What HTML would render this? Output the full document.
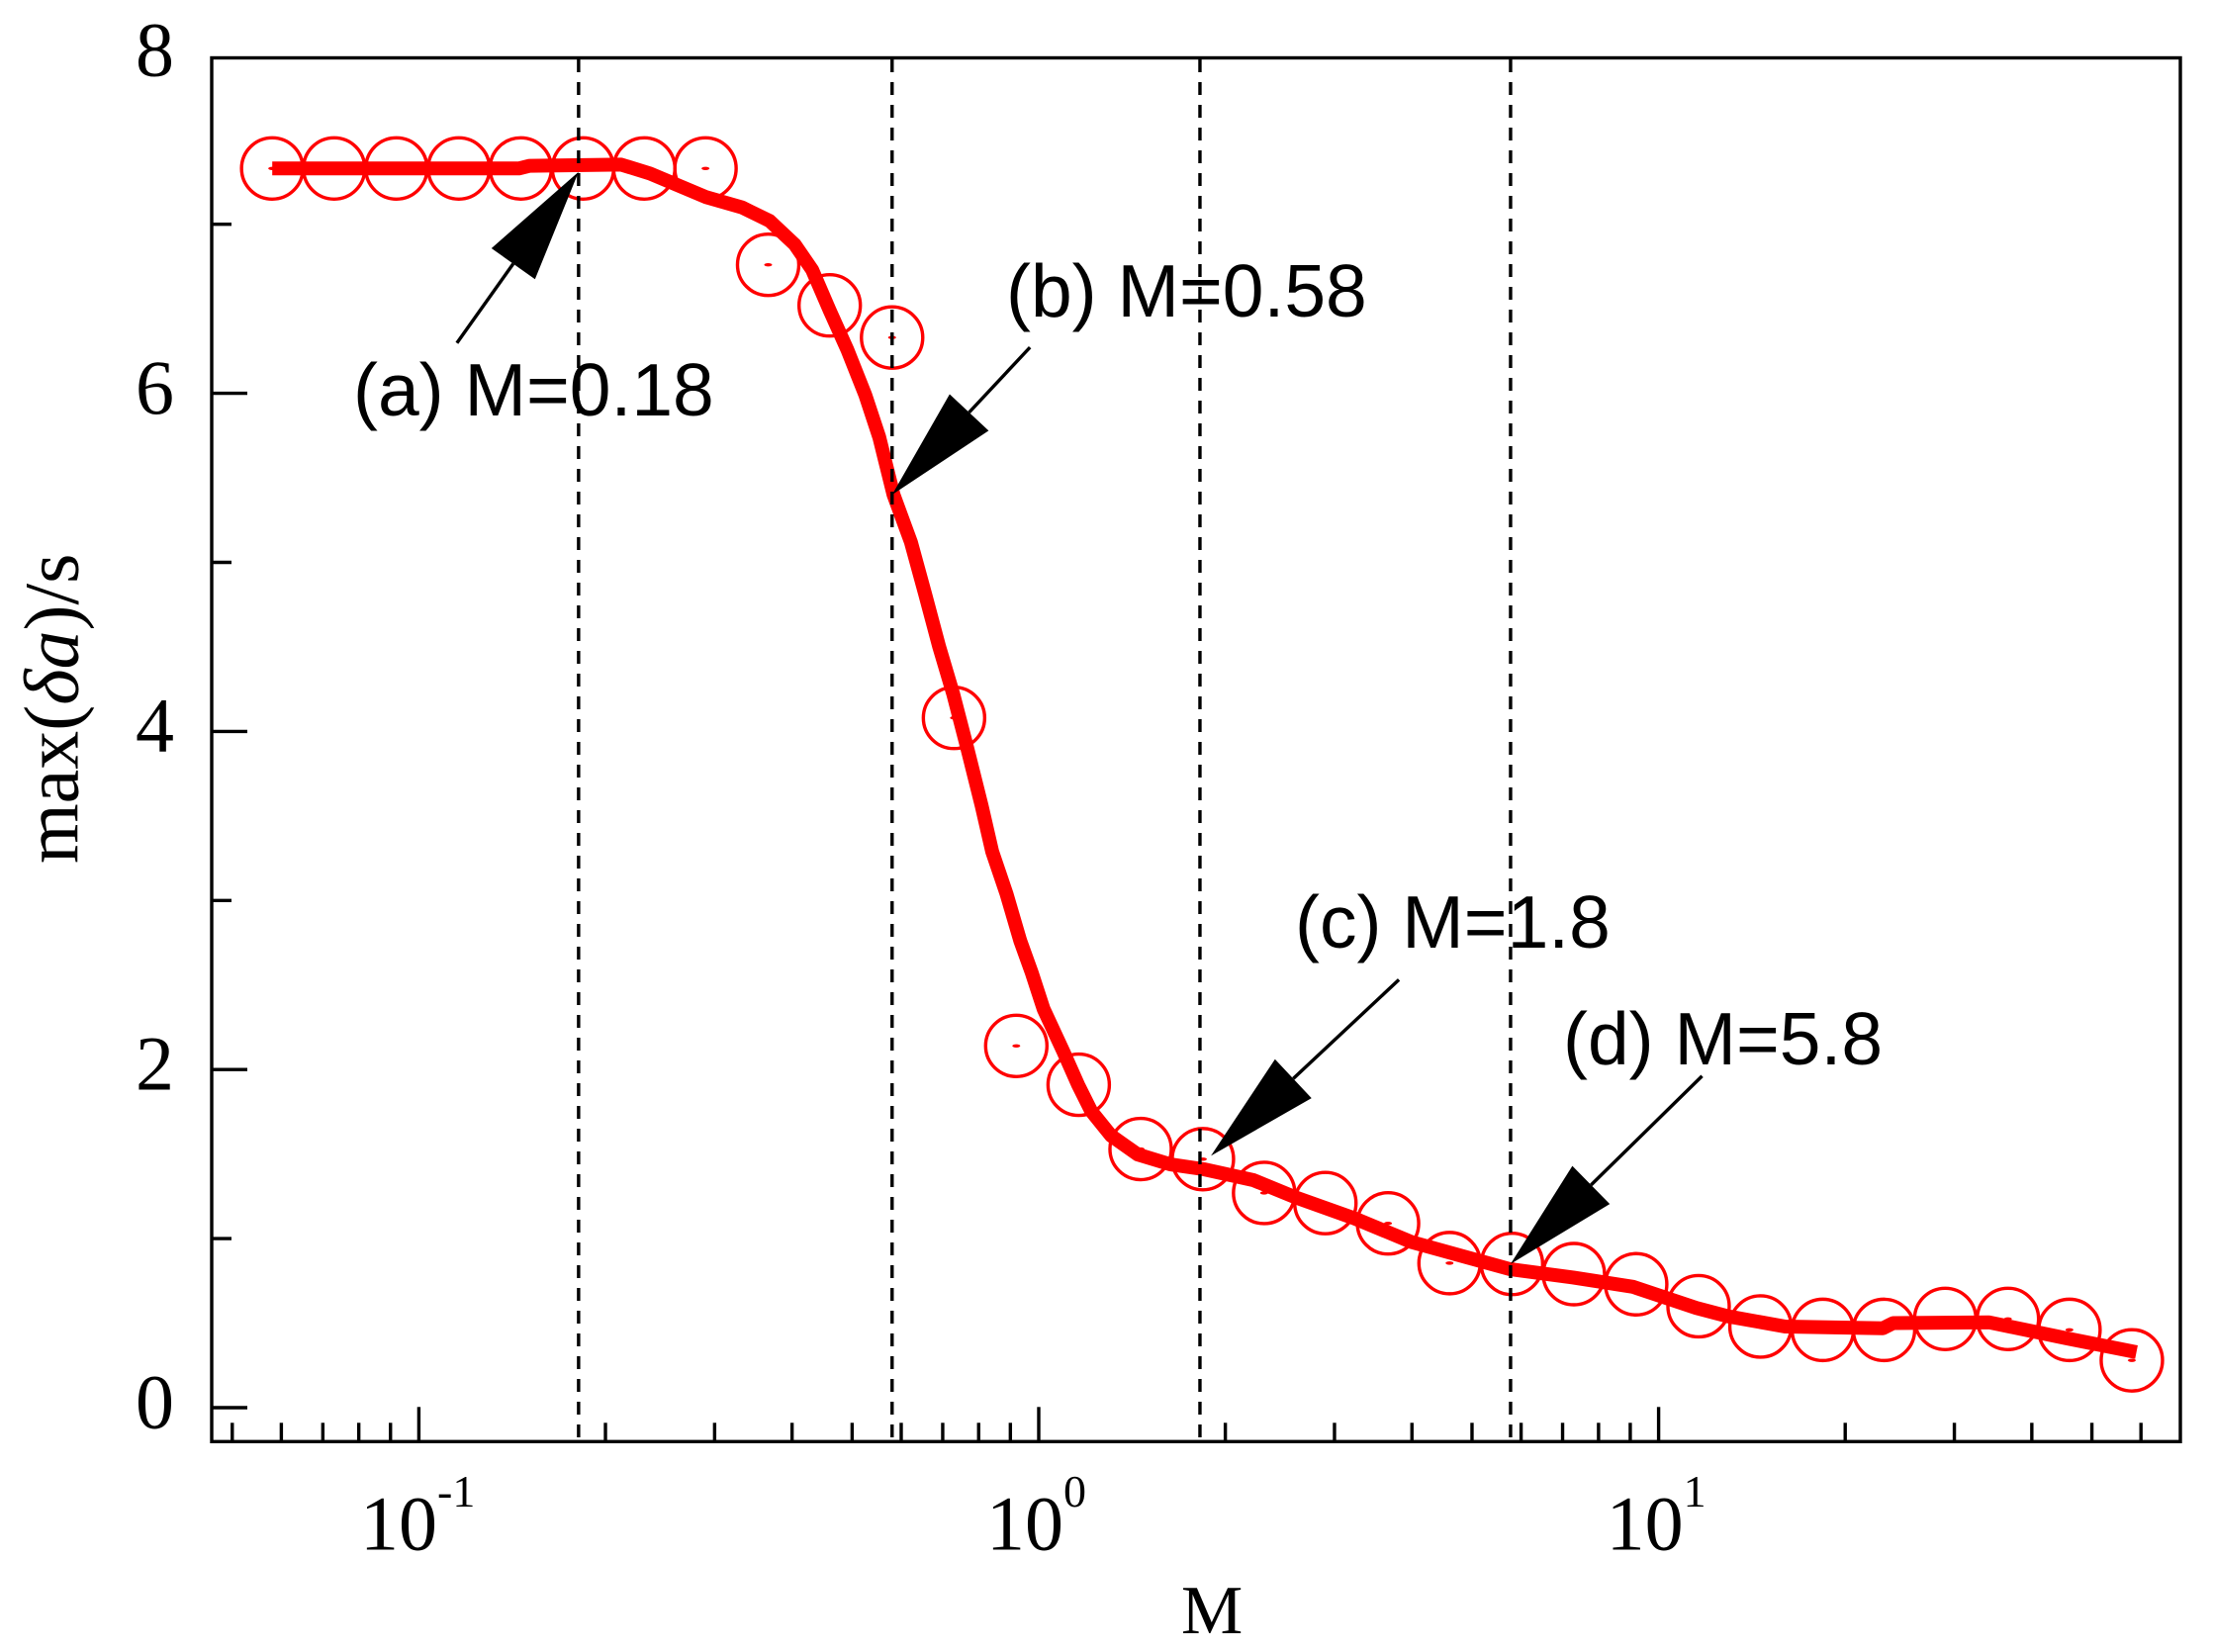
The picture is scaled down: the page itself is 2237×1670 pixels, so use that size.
<!DOCTYPE html>
<html lang="en">
<head>
<meta charset="utf-8">
<title>max(δa)/s versus M</title>
<style>
html,body{margin:0;padding:0;background:#fff;}
svg{display:block;}
.sans{font-family:"Liberation Sans",sans-serif;font-size:75px;fill:#000;}
.serif{font-family:"Liberation Serif",serif;fill:#000;}
</style>
</head>
<body>
<svg id="chart" xmlns="http://www.w3.org/2000/svg" width="2237" height="1670" viewBox="0 0 2237 1670">
  <rect width="2237" height="1670" fill="#fff"/>
  <g id="circles"></g>
  <g id="curve"></g>
  <g id="guides"></g>
  <g id="axes"></g>
  <g id="arrows"></g>
  <text class="sans" x="357" y="420">(a) M=0.18</text>
  <text class="sans" x="1017" y="320">(b) M=0.58</text>
  <text class="sans" x="1309" y="958">(c) M=1.8</text>
  <text class="sans" x="1580" y="1076">(d) M=5.8</text>
  <text class="serif" x="1194" y="1651" font-size="70">M</text>
  <text class="serif" transform="translate(78.5 873) rotate(-90)" font-size="78">max(<tspan font-style="italic">δa</tspan>)/s</text>
</svg>
<script>
var markerM = [0.058,0.073,0.092,0.116,0.146,0.184,0.231,0.29,0.366,0.46,0.58,0.73,0.92,1.16,1.46,1.84,2.31,2.9,3.66,4.6,5.8,7.3,9.2,11.6,14.6,18.4,23.1,29,36.6,46,58];
var markerV = [7.33,7.33,7.33,7.33,7.33,7.33,7.33,7.33,6.76,6.52,6.33,4.08,2.14,1.91,1.53,1.47,1.27,1.21,1.09,0.855,0.85,0.79,0.73,0.60,0.48,0.46,0.46,0.525,0.525,0.46,0.28];
var curveM = [0.058,0.145,0.151,0.212,0.236,0.291,0.332,0.368,0.404,0.431,0.46,0.491,0.525,0.553,0.583,0.622,0.656,0.691,0.728,0.767,0.809,0.841,0.887,0.934,0.975,1.018,1.096,1.158,1.215,1.308,1.444,1.631,1.847,2.22,2.59,3.23,3.99,4.79,5.75,7.28,9.09,11.5,12.95,16,23,23.9,34.1,45.5,59];
var curveV = [7.33,7.33,7.346,7.353,7.30,7.16,7.10,7.02,6.88,6.73,6.49,6.26,5.99,5.74,5.40,5.12,4.81,4.50,4.22,3.90,3.56,3.29,3.04,2.76,2.57,2.358,2.106,1.908,1.755,1.609,1.498,1.439,1.41,1.346,1.245,1.12,0.98,0.90,0.82,0.77,0.715,0.59,0.54,0.48,0.47,0.50,0.505,0.41,0.328];
var guideM = [0.181,0.58,1.82,5.77];
var xMajorTicks = [0.1,1,10];
var xMinorTicks = [0.05,0.06,0.07,0.08,0.09,0.2,0.3,0.4,0.5,0.6,0.7,0.8,0.9,2,3,4,5,6,7,8,9,20,30,40,50,60];
var xExponents = ["-1","0","1"];
var yMajorTicks = [0,2,4,6];
var yMinorTicks = [1,3,5,7];
var yLabels = [0,2,4,6,8];
var arrowM = [0.181,0.58,1.896,5.77];
var arrowV = [7.31,5.40,1.49,0.85];

var NS = 'http://www.w3.org/2000/svg';
function xs(m){ return 1050 + 626.6 * Math.log10(m); }
function ys(v){ return 1423 - 170.9 * v; }
function mk(tag, parent, attrs){
  var e = document.createElementNS(NS, tag);
  for (var k in attrs) e.setAttribute(k, attrs[k]);
  parent.appendChild(e);
  return e;
}
var plot = {l:214, r:2204, t:58.5, b:1457.3};

var cg = document.getElementById('circles');
markerM.forEach(function(m, i){
  var g = mk('g', cg, {});
  
  
  mk('circle', g, {cx:xs(m), cy:ys(markerV[i]), r:31, fill:'none', stroke:'#ff0000', 'stroke-width':3.4});
  mk('ellipse', g, {cx:xs(m), cy:ys(markerV[i]), rx:4, ry:1.7, fill:'#ff0000'});
});

var cv = document.getElementById('curve');
var pts = curveM.map(function(m, i){ return xs(m).toFixed(1) + ',' + ys(curveV[i]).toFixed(1); }).join(' ');
var line = mk('polyline', cv, {points:pts, fill:'none', stroke:'#ff0000', 'stroke-width':14, 'stroke-linejoin':'round', 'stroke-linecap':'butt'});



var gg = document.getElementById('guides');
guideM.forEach(function(m){
  var l = mk('line', gg, {x1:xs(m), x2:xs(m), y1:60, y2:plot.b, stroke:'#000', 'stroke-width':3.4, 'stroke-dasharray':'13 10'});
  
  
});

var ax = document.getElementById('axes');
var frame = mk('rect', ax, {x:plot.l, y:plot.t, width:plot.r-plot.l, height:plot.b-plot.t, fill:'none', stroke:'#000', 'stroke-width':3.4});



xMajorTicks.forEach(function(m, i){
  var t = mk('line', ax, {x1:xs(m), x2:xs(m), y1:plot.b, y2:plot.b-35, stroke:'#000', 'stroke-width':3.4});
  
  
  var startX = xs(m) - (xExponents[i].length > 1 ? 59.4 : 53);
  var lab = mk('text', ax, {x:startX, y:1566.7, 'class':'serif', 'font-size':78});
  
  
  lab.appendChild(document.createTextNode('10'));
  var sup = mk('tspan', lab, {'font-size':46, dy:-43.7});
  sup.textContent = xExponents[i];
});
xMinorTicks.forEach(function(m){
  var t = mk('line', ax, {x1:xs(m), x2:xs(m), y1:plot.b, y2:plot.b-19, stroke:'#000', 'stroke-width':3.4});
  
  
});
yMajorTicks.forEach(function(v){
  var t = mk('line', ax, {x1:plot.l, x2:plot.l+36, y1:ys(v), y2:ys(v), stroke:'#000', 'stroke-width':3.4});
  
  
});
yMinorTicks.forEach(function(v){
  var t = mk('line', ax, {x1:plot.l, x2:plot.l+20, y1:ys(v), y2:ys(v), stroke:'#000', 'stroke-width':3.4});
  
  
});
yLabels.forEach(function(v){
  var lab = mk('text', ax, {x:137, y:ys(v)+20.5, 'class':'serif', 'font-size':78});
  
  
  lab.textContent = String(v);
});

var ag = document.getElementById('arrows');
var tailDX = [-123, 139.4, 190, 193.6];
var tailDY = [173, -149, -178, -190];
arrowM.forEach(function(m, i){
  var tx = xs(m), ty = ys(arrowV[i]);
  var len = Math.sqrt(tailDX[i]*tailDX[i] + tailDY[i]*tailDY[i]);
  var ux = tailDX[i]/len, uy = tailDY[i]/len;
  var bx = tx + ux*114, by = ty + uy*114;
  var g = mk('g', ag, {});
  
  
  mk('line', g, {x1:bx, y1:by, x2:tx+tailDX[i], y2:ty+tailDY[i], stroke:'#000', 'stroke-width':3.4});
  mk('polygon', g, {points:[tx+','+ty, (bx-uy*27)+','+(by+ux*27), (bx+uy*27)+','+(by-ux*27)].join(' '), fill:'#000'});
});
</script>
</body>
</html>
